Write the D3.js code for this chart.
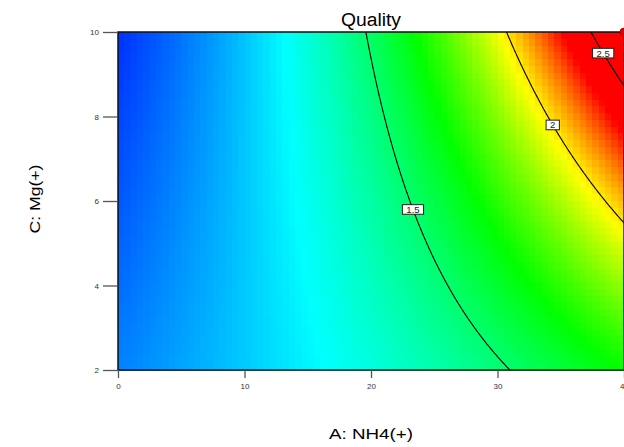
<!DOCTYPE html>
<html>
<head>
<meta charset="utf-8">
<script src="https://cdn.jsdelivr.net/npm/d3@7"></script>
<style>
  body { margin: 0; background: #fff; overflow: hidden; }
  svg { display: block; font-family: "Liberation Sans", Arial, sans-serif; }
</style>
</head>
<body>
<svg id="chart"></svg>
<script>
// factor ranges and ticks
const aDomain = [0, 40];
const cDomain = [2, 10];
const aTicks = [0, 10, 20, 30, 40];
const cTicks = [2, 4, 6, 8, 10];

// fitted model (inverse transform): 1/Quality = b0 + bA*A + bC*C + bAC*A*C
const modelTerms = ['intercept', 'A', 'C', 'AC'];
const modelCoefs = [0.8484, -0.00449, 0.0112, -0.00105];

// contour levels, and the C value where each label sits
const contourLevels = [1.5, 2, 2.5];
const labelC = [5.8, 7.8, 9.5];

// colour ramp
const colorValues = [0.98, 1.31, 1.64, 1.97, 2.30];
const colorRange = ['#0000ff', '#00ffff', '#00ff00', '#ffff00', '#ff0000'];

// design points
const designA = [40];
const designC = [10];

const width = 624, height = 447;
const margin = {top: 32, right: 0, bottom: 77, left: 118};
const innerW = 506, innerH = 338;

function quality(a, c) {
    const x = {intercept: 1, A: a, C: c, AC: a * c};
    const inv = d3.sum(modelTerms, (t, i) => modelCoefs[i] * x[t]);
    return 1 / inv;
}

const svg = d3.select('#chart')
    .attr('width', width)
    .attr('height', height);

const chart = svg.append('g')
    .attr('transform', `translate(${margin.left}, ${margin.top})`);

const xscale = d3.scaleLinear().domain(aDomain).range([0, innerW]);
const yscale = d3.scaleLinear().domain(cDomain).range([innerH, 0]);
const color = d3.scaleLinear().domain(colorValues).range(colorRange).clamp(true);

chart.append('clipPath')
    .attr('id', 'plotclip')
    .append('rect')
    .attr('width', innerW)
    .attr('height', innerH);

// heat map cells
const nCols = 80, nRows = 50;
const colBand = d3.scaleBand().domain(d3.range(nCols)).range([0, innerW]);
const rowBand = d3.scaleBand().domain(d3.range(nRows)).range([0, innerH]);
const cells = [];
d3.range(nRows).forEach(r => {
    d3.range(nCols).forEach(c => {
        const a = xscale.invert(colBand(c) + colBand.bandwidth() / 2);
        const cc = yscale.invert(rowBand(r) + rowBand.bandwidth() / 2);
        cells.push({r, c, v: quality(a, cc)});
    });
});

chart.append('g')
    .attr('shape-rendering', 'crispEdges')
    .selectAll('rect')
    .data(cells)
    .join('rect')
    .attr('x', d => colBand(d.c))
    .attr('y', d => rowBand(d.r))
    .attr('width', colBand.bandwidth() + 0.6)
    .attr('height', rowBand.bandwidth() + 0.6)
    .attr('fill', d => color(d.v));

// contour lines
const nx = 201, ny = 161;
const grid = new Array(nx * ny);
for (let j = 0; j < ny; j++) {
    const cc = cDomain[1] - j * (cDomain[1] - cDomain[0]) / (ny - 1);
    for (let i = 0; i < nx; i++) {
        const a = aDomain[0] + i * (aDomain[1] - aDomain[0]) / (nx - 1);
        grid[j * nx + i] = quality(a, cc);
    }
}
const gx = d3.scaleLinear().domain([0.5, nx - 0.5]).range([0, innerW]);
const gy = d3.scaleLinear().domain([0.5, ny - 0.5]).range([0, innerH]);
const proj = d3.geoTransform({
    point: function(x, y) { this.stream.point(gx(x), gy(y)); }
});
const contours = d3.contours().size([nx, ny]).thresholds(contourLevels)(grid);

chart.append('g')
    .attr('clip-path', 'url(#plotclip)')
    .selectAll('path')
    .data(contours)
    .join('path')
    .attr('d', d3.geoPath(proj))
    .attr('fill', 'none')
    .attr('stroke', '#000')
    .attr('stroke-width', 1.1);

// contour labels
const labels = chart.append('g');
contourLevels.forEach((lev, k) => {
    let lo = aDomain[0], hi = aDomain[1];
    for (let it = 0; it < 40; it++) {
        const mid = (lo + hi) / 2;
        if (quality(mid, labelC[k]) < lev) lo = mid; else hi = mid;
    }
    const px = xscale(lo), py = yscale(labelC[k]);
    const g = labels.append('g').attr('transform', `translate(${px}, ${py})`);
    const rect = g.append('rect');
    const t = g.append('text')
        .attr('text-anchor', 'middle')
        .attr('dy', '0.36em')
        .style('font-size', '9.5px')
        .attr('fill', '#222')
        .text(lev);
    const bb = t.node().getBBox();
    const bw = bb.width + 8;
    rect.attr('x', -bw / 2)
        .attr('y', -4.8)
        .attr('width', bw)
        .attr('height', 9.6)
        .attr('fill', '#fff')
        .attr('stroke', '#222')
        .attr('stroke-width', 1);
});

// frame
chart.append('rect')
    .attr('width', innerW)
    .attr('height', innerH)
    .attr('fill', 'none')
    .attr('stroke', '#111')
    .attr('stroke-width', 1.5);

// design points
chart.selectAll('circle.dp')
    .data(designA.map((a, i) => ({a, c: designC[i]})))
    .join('circle')
    .attr('class', 'dp')
    .attr('cx', d => xscale(d.a))
    .attr('cy', d => yscale(d.c))
    .attr('r', 4)
    .attr('fill', '#e00000')
    .attr('stroke', '#900')
    .attr('stroke-width', 0.8);

// axes
const xaxis = d3.axisBottom(xscale).tickValues(aTicks).tickSize(8).tickSizeOuter(0).tickPadding(5);
const yaxis = d3.axisLeft(yscale).tickValues(cTicks).tickSize(15).tickSizeOuter(0).tickPadding(4);

const xg = chart.append('g')
    .attr('transform', `translate(0, ${innerH})`)
    .call(xaxis);
const yg = chart.append('g').call(yaxis);

[xg, yg].forEach(g => {
    g.select('.domain').remove();
    g.selectAll('.tick line').attr('stroke', '#555').attr('stroke-width', 1.3);
    g.selectAll('.tick text')
        .attr('fill', '#333')
        .style('font-size', '8px')
        .style('font-family', '"Liberation Sans", Arial, sans-serif');
});

// titles
svg.append('text')
    .attr('x', margin.left + innerW / 2)
    .attr('y', 26)
    .attr('text-anchor', 'middle')
    .style('font-size', '18px')
    .attr('textLength', 60)
    .attr('lengthAdjust', 'spacingAndGlyphs')
    .attr('fill', '#000')
    .text('Quality');

svg.append('text')
    .attr('x', margin.left + innerW / 2)
    .attr('y', 439)
    .attr('text-anchor', 'middle')
    .style('font-size', '15px')
    .attr('textLength', 84)
    .attr('lengthAdjust', 'spacingAndGlyphs')
    .attr('fill', '#000')
    .text('A: NH4(+)');

svg.append('text')
    .attr('transform', `translate(40, 199) rotate(-90)`)
    .attr('text-anchor', 'middle')
    .style('font-size', '15px')
    .attr('textLength', 69)
    .attr('lengthAdjust', 'spacingAndGlyphs')
    .attr('fill', '#000')
    .text('C: Mg(+)');
</script>
</body>
</html>
